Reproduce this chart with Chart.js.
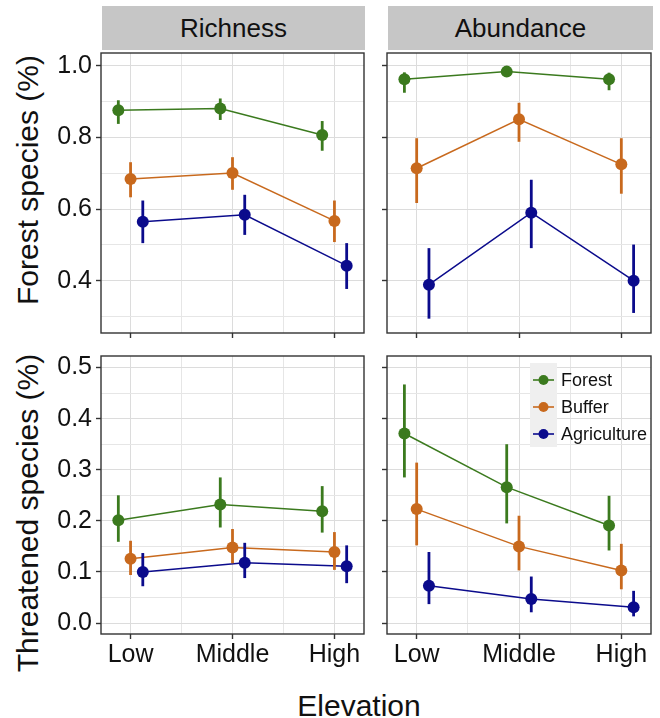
<!DOCTYPE html>
<html><head><meta charset="utf-8">
<script src="https://cdn.jsdelivr.net/npm/chart.js@4.4.1/dist/chart.umd.min.js"></script>
<style>
html,body{margin:0;padding:0;background:#fff;width:660px;height:718px;overflow:hidden;font-family:"Liberation Sans",Arial,Helvetica,sans-serif;color:#111;}
canvas{position:absolute;}
.strip{position:absolute;top:6px;height:44px;line-height:44px;background:#c6c6c6;font-size:26px;text-align:center;}
.ytitle{position:absolute;font-size:30px;line-height:30px;white-space:nowrap;transform:translate(-50%,-50%) rotate(-90deg);}
.xtitle{position:absolute;font-size:30px;line-height:30px;white-space:nowrap;transform:translateX(-50%);}
</style></head><body>
<div class="strip" style="left:102px;width:263px">Richness</div>
<div class="strip" style="left:388px;width:265px">Abundance</div>
<div class="ytitle" style="left:28px;top:180px">Forest species (%)</div>
<div class="ytitle" style="left:28px;top:513px">Threatened species (%)</div>
<div class="xtitle" style="left:359px;top:691px">Elevation</div>
<canvas id="tl"></canvas>
<canvas id="tr"></canvas>
<canvas id="bl"></canvas>
<canvas id="br"></canvas>
<script>
// ---- data ----
const categories = ['Low', 'Middle', 'High'];
const seriesNames = ['Forest', 'Buffer', 'Agriculture'];
const seriesColors = ['#3b7a1e', '#c8691d', '#0b0b8c'];
const dodge = [-0.12, 0, 0.12];

const yMajorForest = [0.4, 0.6, 0.8, 1.0];
const yMinorForest = [0.3, 0.5, 0.7, 0.9];
const yMajorThreat = [0.0, 0.1, 0.2, 0.3, 0.4, 0.5];
const yMinorThreat = [0.05, 0.15, 0.25, 0.35, 0.45];
const xMinor = [1.5, 2.5];

// [mean, lower, upper] per elevation (Low, Middle, High)
// Richness - Forest species
const richForest_Forest = [[0.876, 0.838, 0.904], [0.881, 0.849, 0.909], [0.807, 0.763, 0.846]];
const richForest_Buffer = [[0.684, 0.633, 0.731], [0.701, 0.654, 0.745], [0.567, 0.508, 0.624]];
const richForest_Agri   = [[0.565, 0.505, 0.624], [0.584, 0.528, 0.640], [0.442, 0.377, 0.505]];
// Abundance - Forest species
const abunForest_Forest = [[0.963, 0.925, 0.982], [0.984, 0.975, 0.990], [0.963, 0.932, 0.981]];
const abunForest_Buffer = [[0.714, 0.617, 0.798], [0.851, 0.788, 0.897], [0.725, 0.643, 0.798]];
const abunForest_Agri   = [[0.389, 0.294, 0.491], [0.590, 0.491, 0.682], [0.400, 0.310, 0.501]];
// Richness - Threatened species
const richThreat_Forest = [[0.201, 0.159, 0.250], [0.232, 0.187, 0.285], [0.219, 0.177, 0.268]];
const richThreat_Buffer = [[0.126, 0.094, 0.161], [0.148, 0.117, 0.184], [0.139, 0.104, 0.178]];
const richThreat_Agri   = [[0.100, 0.072, 0.137], [0.118, 0.088, 0.157], [0.111, 0.078, 0.152]];
// Abundance - Threatened species
const abunThreat_Forest = [[0.371, 0.285, 0.467], [0.266, 0.195, 0.350], [0.191, 0.142, 0.249]];
const abunThreat_Buffer = [[0.223, 0.152, 0.314], [0.150, 0.103, 0.210], [0.103, 0.066, 0.155]];
const abunThreat_Agri   = [[0.073, 0.037, 0.139], [0.047, 0.021, 0.091], [0.031, 0.013, 0.063]];

// ---- drawing ----
const FONT = '"Liberation Sans", Arial, Helvetica, sans-serif';
const GRID_MAJOR = '#dcdcdc', GRID_MINOR = '#e6e6e6', AXIS_DARK = '#333333';
const near = (v, arr) => arr.some(a => Math.abs(a - v) < 1e-6);

const errorBars = {
  id: 'errorBars',
  afterDatasetsDraw(chart) {
    const { ctx, scales: { x, y } } = chart;
    chart.data.datasets.forEach(d => {
      ctx.save();
      ctx.strokeStyle = d.borderColor;
      ctx.lineWidth = 2.8;
      d.data.forEach(p => {
        const px = x.getPixelForValue(p.x);
        ctx.beginPath();
        ctx.moveTo(px, y.getPixelForValue(p.lo));
        ctx.lineTo(px, y.getPixelForValue(p.hi));
        ctx.stroke();
      });
      ctx.restore();
    });
  }
};

const panelBorder = {
  id: 'panelBorder',
  afterDraw(chart) {
    const { ctx, chartArea: a } = chart;
    ctx.save();
    ctx.strokeStyle = AXIS_DARK;
    ctx.lineWidth = 1.4;
    ctx.strokeRect(a.left, a.top, a.right - a.left, a.bottom - a.top);
    ctx.restore();
  }
};

const legendBox = {
  id: 'legendBox',
  afterDraw(chart) {
    if (!chart.options.plugins.legendBox || !chart.options.plugins.legendBox.show) return;
    const { ctx, chartArea: a } = chart;
    const kx = a.right - 121, kw = 27;
    const ys = [a.top + 24, a.top + 51, a.top + 78];
    ctx.save();
    ctx.fillStyle = '#efefef';
    ctx.fillRect(kx, a.top + 7, kw, 84);
    seriesNames.forEach((name, i) => {
      const cy = ys[i];
      ctx.strokeStyle = seriesColors[i];
      ctx.lineWidth = 1.6;
      ctx.beginPath();
      ctx.moveTo(kx + 3, cy); ctx.lineTo(kx + kw - 3, cy); ctx.stroke();
      ctx.fillStyle = seriesColors[i];
      ctx.beginPath(); ctx.arc(kx + kw / 2, cy, 5, 0, Math.PI * 2); ctx.fill();
      ctx.fillStyle = '#111';
      ctx.font = '18px ' + FONT;
      ctx.textBaseline = 'middle';
      ctx.textAlign = 'left';
      ctx.fillText(name, kx + kw + 4, cy + 1);
    });
    ctx.restore();
  }
};

function makePanel(id, area, seriesData, yRange, yMajor, yMinor, showXLabels, showYLabels, showLegend) {
  const yW = showYLabels ? 61 : 8;
  const xH = showXLabels ? 45 : 5;
  const padT = 22, padR = 5, padB = showXLabels ? 2 : 15;
  const w = (area.r - area.l) + yW + padR;
  const h = (area.b - area.t) + padT + xH + padB;
  const cv = document.getElementById(id);
  cv.width = w; cv.height = h;
  cv.style.width = w + 'px'; cv.style.height = h + 'px';
  cv.style.left = (area.l - yW) + 'px'; cv.style.top = (area.t - padT) + 'px';

  const datasets = seriesData.map((rows, si) => ({
    label: seriesNames[si],
    data: rows.map((r, ci) => ({ x: ci + 1 + dodge[si], y: r[0], lo: r[1], hi: r[2] })),
    borderColor: seriesColors[si],
    backgroundColor: seriesColors[si],
    pointBackgroundColor: seriesColors[si],
    borderWidth: 1.5,
    pointRadius: 6,
    pointHoverRadius: 6,
    pointBorderWidth: 0,
    tension: 0,
    clip: false
  }));

  const yAll = yMajor.concat(yMinor).sort((a, b) => a - b);
  const xAll = [1, 1.5, 2, 2.5, 3];

  return new Chart(cv, {
    type: 'line',
    data: { datasets },
    options: {
      responsive: false,
      animation: false,
      devicePixelRatio: 1,
      layout: { padding: { left: 0, top: padT, right: padR, bottom: padB } },
      plugins: { legend: { display: false }, tooltip: { enabled: false }, legendBox: { show: showLegend } },
      scales: {
        x: {
          type: 'linear', bounds: 'data', min: 0.71, max: 3.29,
          afterBuildTicks: s => { s.ticks = xAll.map(v => ({ value: v })); },
          afterFit: s => { s.height = xH; },
          border: { display: false },
          grid: {
            color: c => near(c.tick.value, xMinor) ? GRID_MINOR : GRID_MAJOR,
            lineWidth: 1,
            drawTicks: true, tickLength: 5, tickWidth: 1.4,
            tickColor: c => near(c.tick.value, xMinor) ? 'rgba(0,0,0,0)' : AXIS_DARK
          },
          ticks: {
            display: showXLabels, autoSkip: false, maxRotation: 0, padding: 1,
            color: '#111', font: { size: 25, family: FONT },
            callback: v => Number.isInteger(v) ? categories[v - 1] : ''
          }
        },
        y: {
          type: 'linear', bounds: 'data', min: yRange[0], max: yRange[1],
          afterBuildTicks: s => { s.ticks = yAll.map(v => ({ value: v })); },
          afterFit: s => { s.width = yW; },
          border: { display: false },
          grid: {
            color: c => near(c.tick.value, yMinor) ? GRID_MINOR : GRID_MAJOR,
            lineWidth: 1,
            drawTicks: true, tickLength: 5, tickWidth: 1.4,
            tickColor: c => near(c.tick.value, yMinor) ? 'rgba(0,0,0,0)' : AXIS_DARK
          },
          ticks: {
            display: showYLabels, autoSkip: false, padding: 4,
            color: '#111', font: { size: 25, family: FONT },
            callback: v => near(v, yMajor) ? v.toFixed(1) : ''
          }
        }
      }
    },
    plugins: [errorBars, panelBorder, legendBox]
  });
}

const forestRange = [0.254, 1.036];
const threatRange = [-0.0215, 0.5227];

makePanel('tl', { l: 101, t: 53, r: 365, b: 333 },
  [richForest_Forest, richForest_Buffer, richForest_Agri], forestRange, yMajorForest, yMinorForest, false, true, false);
makePanel('tr', { l: 387, t: 53, r: 652, b: 333 },
  [abunForest_Forest, abunForest_Buffer, abunForest_Agri], forestRange, yMajorForest, yMinorForest, false, false, false);
makePanel('bl', { l: 101, t: 356, r: 365, b: 634 },
  [richThreat_Forest, richThreat_Buffer, richThreat_Agri], threatRange, yMajorThreat, yMinorThreat, true, true, false);
makePanel('br', { l: 387, t: 356, r: 652, b: 634 },
  [abunThreat_Forest, abunThreat_Buffer, abunThreat_Agri], threatRange, yMajorThreat, yMinorThreat, true, false, true);
</script>
</body></html>
